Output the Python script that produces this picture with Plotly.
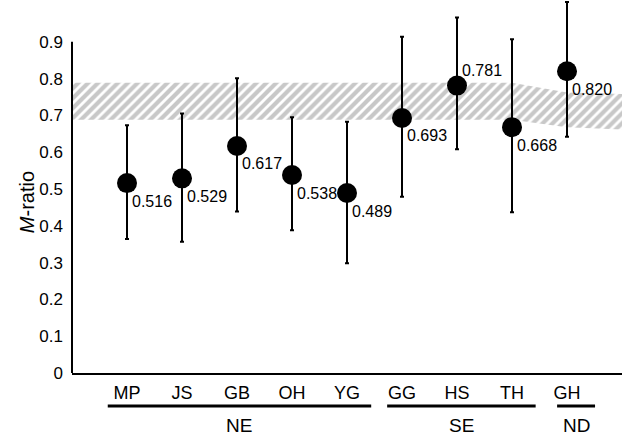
import plotly.graph_objects as go

# ---- data ----
populations = ["MP", "JS", "GB", "OH", "YG", "GG", "HS", "TH", "GH"]
m_ratio = [0.516, 0.529, 0.617, 0.538, 0.489, 0.693, 0.781, 0.668, 0.820]
ci_upper = [0.673, 0.705, 0.801, 0.695, 0.683, 0.914, 0.966, 0.907, 1.008]
ci_lower = [0.364, 0.357, 0.439, 0.388, 0.298, 0.479, 0.608, 0.437, 0.642]
label_above = [False, False, False, False, False, False, True, False, False]

groups = ["NE", "SE", "ND"]
group_start = [-0.35, 4.73, 7.82]
group_end = [4.44, 7.43, 8.51]

# critical M-ratio band (hatched), positions in category index units
band_x = [-1, 0, 1, 2, 3, 4, 5, 6, 7, 8, 9]
band_lower = [0.688, 0.688, 0.688, 0.688, 0.688, 0.688, 0.688, 0.688, 0.688, 0.668, 0.662]
band_upper = [0.789, 0.789, 0.789, 0.789, 0.789, 0.789, 0.789, 0.789, 0.789, 0.762, 0.758]

y_ticks = [0, 0.1, 0.2, 0.3, 0.4, 0.5, 0.6, 0.7, 0.8, 0.9]
y_ticktext = ["0", "0.1", "0.2", "0.3", "0.4", "0.5", "0.6", "0.7", "0.8", "0.9"]

FONT = "Liberation Sans, Arial, sans-serif"
xpos = list(range(len(populations)))

fig = go.Figure()

fig.add_trace(go.Scatter(
    x=band_x + band_x[::-1],
    y=band_upper + band_lower[::-1],
    fill="toself",
    mode="lines",
    line=dict(width=0, color="rgba(0,0,0,0)"),
    fillcolor="white",
    fillpattern=dict(shape="/", fgcolor="#929292", bgcolor="white",
                     size=7, solidity=0.6),
    hoverinfo="skip",
    showlegend=False,
))

fig.add_trace(go.Scatter(
    x=xpos,
    y=m_ratio,
    mode="markers",
    marker=dict(size=20, color="black"),
    error_y=dict(
        type="data",
        symmetric=False,
        array=[u - v for u, v in zip(ci_upper, m_ratio)],
        arrayminus=[v - l for v, l in zip(m_ratio, ci_lower)],
        color="black",
        thickness=2,
        width=2,
    ),
    showlegend=False,
    cliponaxis=False,
))

annotations = []
for i, (v, above) in enumerate(zip(m_ratio, label_above)):
    annotations.append(dict(
        x=i, y=v, xref="x", yref="y",
        text=f"{v:.3f}", showarrow=False,
        xanchor="left", yanchor="middle",
        xshift=3, yshift=15 if above else -18,
        font=dict(family=FONT, size=16, color="black"),
    ))

shapes = []
for g, s, e in zip(groups, group_start, group_end):
    shapes.append(dict(type="line", xref="x", yref="paper",
                       x0=s, x1=e, y0=-0.0885, y1=-0.0885,
                       line=dict(color="black", width=3)))
    annotations.append(dict(
        x=(s + e) / 2, y=-0.142, xref="x", yref="paper",
        text=g, showarrow=False, xanchor="center", yanchor="middle",
        font=dict(family=FONT, size=19, color="black"),
    ))

# y axis line only up to 0.9
shapes.append(dict(type="line", xref="paper", yref="y",
                   x0=0, x1=0, y0=0, y1=0.9,
                   line=dict(color="black", width=2)))

annotations.append(dict(
    x=-0.0818, y=0.458, xref="paper", yref="paper",
    text="<i>M</i>-ratio", showarrow=False, textangle=-90,
    xanchor="center", yanchor="middle",
    font=dict(family=FONT, size=20, color="black"),
))

fig.update_layout(
    width=625, height=442,
    margin=dict(l=72, r=3, t=0, b=69),
    paper_bgcolor="white", plot_bgcolor="white",
    font=dict(family=FONT, color="black"),
    xaxis=dict(
        range=[-1, 9],
        tickvals=xpos, ticktext=populations,
        showgrid=False, zeroline=False,
        showline=True, linecolor="black", linewidth=2,
        ticks="", ticklabelstandoff=2,
        tickfont=dict(family=FONT, size=18, color="black"),
    ),
    yaxis=dict(
        range=[0, 1.0136],
        tickvals=y_ticks, ticktext=y_ticktext,
        showgrid=False, zeroline=False, showline=False,
        ticks="", ticklabelstandoff=8,
        tickfont=dict(family=FONT, size=17, color="black"),
    ),
    annotations=annotations,
    shapes=shapes,
)

fig.write_html(
    "out.html",
    config={"displayModeBar": False},
    post_script="document.body.style.margin='0';document.body.style.padding='0';",
)
